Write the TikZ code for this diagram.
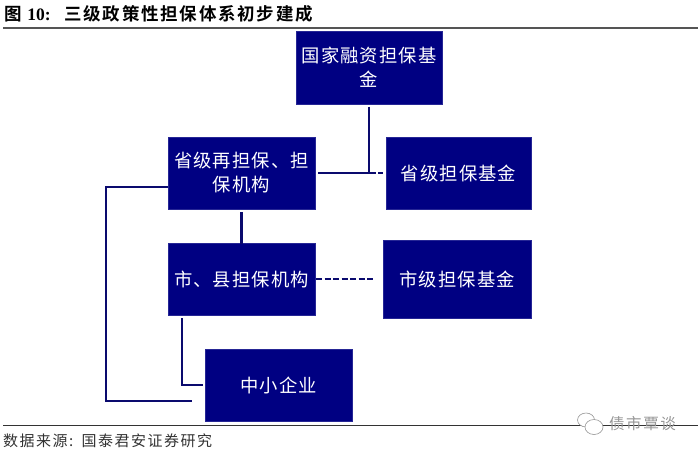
\documentclass[tikz,border=0pt]{standalone}
\usepackage{fontspec}
\setmainfont{Liberation Serif}
\newfontfamily\cjk[LetterSpace=6]{Noto Sans CJK SC}
\newfontfamily\cjkfine[LetterSpace=10]{Noto Sans CJK SC}
\newfontfamily\cjkbold[LetterSpace=10]{Noto Sans CJK SC Bold}
\usetikzlibrary{positioning,calc}
\definecolor{FundNavy}{RGB}{0,0,130}
\definecolor{LinkNavy}{RGB}{10,10,110}
\definecolor{RuleGrey}{RGB}{85,85,85}
\definecolor{MarkGrey}{RGB}{150,150,150}
\tikzset{
  box/.style={draw=FundNavy!85!white,line width=0.5pt,fill=FundNavy,text=white,outer sep=0pt,inner sep=0pt,
    align=center,font=\cjk\fontsize{18.3}{24}\selectfont},
  link/.style={draw=LinkNavy,line width=2.2pt},
  dashlink/.style={draw=LinkNavy,line width=2.4pt,dash pattern=on 6pt off 2.5pt},
  rulebar/.style={draw=RuleGrey,line width=1.2pt},
  caption/.style={anchor=west,inner sep=0pt,text=black}
}
\begin{document}
\begin{tikzpicture}[x=1pt,y=-1pt]
  \useasboundingbox (0,0) rectangle (700,456);
  % header and footer
  \coordinate (headl) at (3,28);
  \coordinate (headr) at (698,28);
  \coordinate (footl) at (3,425);
  \coordinate (footr) at (698,425);
  \draw[rulebar] (headl) -- (headr);
  \draw[rulebar,line width=1pt,draw=black!80] (footl) -- (footr);
  \node[caption,font=\cjkbold\fontsize{17.5}{20}\selectfont] (title) at (4,14) {图 {\rmfamily\bfseries 10:}\hspace{0.78em}三级政策性担保体系初步建成};
  \node[caption,font=\cjkfine\fontsize{15}{18}\selectfont,text=black!80] (source) at (3,441) {数据来源:\hspace{0.55em}国泰君安证券研究};
  \node[caption,font=\cjkfine\fontsize{15.5}{18}\selectfont,text=MarkGrey] (mark) at (609,424) {债市覃谈};
  \draw[MarkGrey,line width=0.6pt,fill=white] (586,420) ellipse (8.5pt and 7pt);
  \draw[MarkGrey,line width=0.6pt,fill=white] (594,427) ellipse (9pt and 7.5pt);
  % boxes
  \node[box,minimum width=146pt,minimum height=73pt] (national) at (369,67.5) {国家融资担保基\\金};
  \node[box,below left=33pt and -19pt of national,minimum width=147pt,minimum height=72pt] (provagency) {省级再担保、担\\保机构};
  \node[box,right=71pt of provagency,minimum width=145pt,minimum height=72pt] (provfund) {省级担保基金};
  \node[box,below=34.5pt of provagency,minimum width=147pt,minimum height=71.5pt] (cityagency) {市、县担保机构};
  \node[box,right=68.5pt of cityagency,minimum width=147.5pt,minimum height=78pt] (cityfund) {市级担保基金};
  \node[box,below right=34pt and -110pt of cityagency,minimum width=147pt,minimum height=72pt] (sme) {中小企业};
  % links
  \coordinate (junction) at (national.south |- provagency.east);
  \coordinate (feedback) at ([xshift=-62pt,yshift=-14pt]provagency.west);
  \draw[link,line width=2.8pt,shorten <=2.5pt] (national.south) -- ([yshift=-1pt]junction);
  \draw[link,shorten <=3pt] (provagency.east) -- ([xshift=7pt]junction);
  \draw[dashlink,shorten >=3pt] ([xshift=9pt]junction) -- (provfund.west);
  \draw[link,shorten <=3pt] (provagency.south) -- (cityagency.north);
  \draw[dashlink,shorten <=1pt,shorten >=8.5pt] (cityagency.east) -- (cityfund.west);
  \draw[link] ([yshift=-14pt]provagency.west) -- (feedback) |- ([xshift=-13pt,yshift=-16pt]sme.west);
  \draw[link,shorten <=3pt] ([xshift=14pt]cityagency.south west) |- ([xshift=-2pt]sme.west);
\end{tikzpicture}
\end{document}
